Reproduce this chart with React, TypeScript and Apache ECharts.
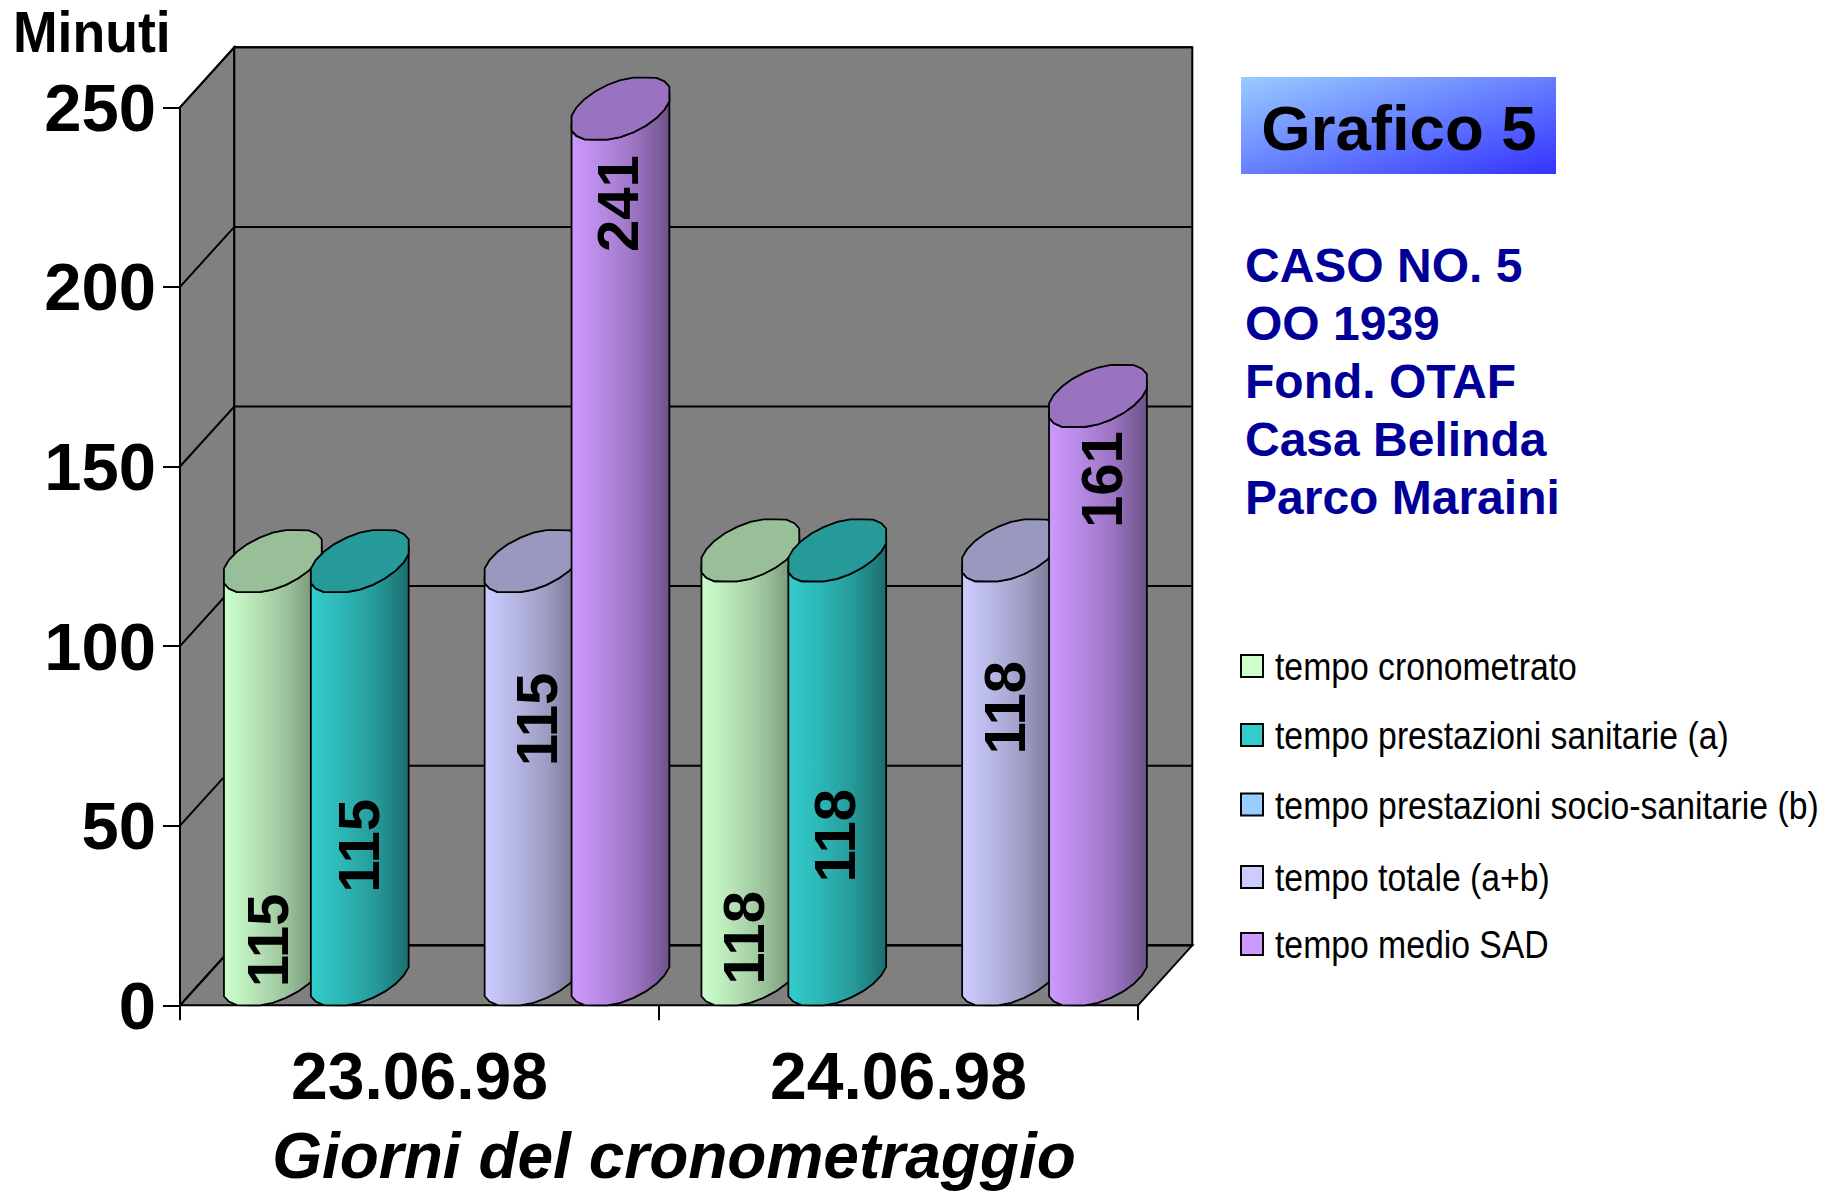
import React, { useEffect, useRef } from "react";
import * as echarts from "echarts";

const days = ["23.06.98", "24.06.98"];
const yTicks = [0, 50, 100, 150, 200, 250];
const seriesNames = [
  "tempo cronometrato",
  "tempo prestazioni sanitarie (a)",
  "tempo prestazioni socio-sanitarie (b)",
  "tempo totale (a+b)",
  "tempo medio SAD",
];
const cronometrato = [115, 118];
const sanitarie = [115, 118];
const socioSanitarie: (number | null)[] = [null, null];
const totale = [115, 118];
const medioSad = [241, 161];
const seriesValues = [cronometrato, sanitarie, socioSanitarie, totale, medioSad];
const baseRgb = [
  [204, 255, 204],
  [51, 204, 204],
  [153, 204, 255],
  [204, 204, 255],
  [204, 153, 255],
];
const labelRise = [[0.157, 0.159], [0.386, 0.4], [0.7, 0.7], [0.692, 0.702], [0.926, 0.909]];
const labelShift = [[-5, -7], [-1, -3], [0, 0], [3, -7], [-2.5, 4]];
const sideLines = ["CASO NO. 5", "OO 1939", "Fond. OTAF", "Casa Belinda", "Parco Maraini"];
const legendRows = [667, 736, 805.5, 878, 945];

const FONT = "Liberation Sans";
const DEPTH_X = 54.3;
const DEPTH_Y = 60;
const STEP = 86.9;
const UX = 43.2;
const VX = 22.9;
const VY = 31;
const HALF_W = 48.9;
const ROUND = 1.04;

const shade = (c: number[], k: number) => `rgb(${c.map((v) => Math.round(v * k)).join(",")})`;
const clamp = (v: number, lo: number, hi: number) => Math.min(hi, Math.max(lo, v));

function ellipsePts(cx: number, cy: number, from: number, to: number, n: number) {
  const pts: number[][] = [];
  for (let i = 0; i <= n; i++) {
    const t = from + ((to - from) * i) / n;
    pts.push([
      clamp(cx + ROUND * (UX * Math.cos(t) + VX * Math.sin(t)), cx - HALF_W, cx + HALF_W),
      clamp(cy - ROUND * VY * Math.sin(t), cy - VY, cy + VY),
    ]);
  }
  return pts;
}

const wallsRender = (params: any, api: any) => {
  const g = params.coordSys;
  const L = g.x, R = g.x + g.width, T = g.y, B = g.y + g.height;
  const fill = { fill: "#808080", stroke: "#000", lineWidth: 2 };
  const children: any[] = [
    { type: "polygon", shape: { points: [[L, T], [L + DEPTH_X, T - DEPTH_Y], [L + DEPTH_X, B - DEPTH_Y], [L, B]] }, style: fill },
    { type: "polygon", shape: { points: [[L, B], [L + DEPTH_X, B - DEPTH_Y], [R + DEPTH_X, B - DEPTH_Y], [R, B]] }, style: fill },
    { type: "rect", shape: { x: L + DEPTH_X, y: T - DEPTH_Y, width: g.width, height: g.height }, style: fill },
  ];
  yTicks.forEach((v) => {
    const y = api.coord([0, v])[1];
    children.push({
      type: "polyline",
      shape: { points: [[L, y], [L + DEPTH_X, y - DEPTH_Y], [R + DEPTH_X, y - DEPTH_Y]] },
      style: { fill: "none", stroke: "#000", lineWidth: 2 },
    });
  });
  return { type: "group", children };
};

const cylinderRender = (s: number) => (params: any, api: any) => {
  const v = api.value(1);
  if (v == null || isNaN(v)) return null;
  const cat = api.value(0);
  const [px, yv] = api.coord([cat, v]);
  const y0 = api.coord([cat, 0])[1];
  const cx = px + (s - 2) * STEP + DEPTH_X / 2 - (cat === 1 ? 1.5 : 0);
  const a = Math.atan2(VX, UX);
  const base = baseRgb[s];
  const lower = ellipsePts(cx, y0 - VY, Math.PI + a, 2 * Math.PI + a, 12);
  const topLower = ellipsePts(cx, yv - VY, 2 * Math.PI + a, Math.PI + a, 12);
  const top = ellipsePts(cx, yv - VY, a, 2 * Math.PI + a, 24);
  const grad = new echarts.graphic.LinearGradient(0, 0, 1, 0, [
    { offset: 0, color: shade(base, 1) },
    { offset: 0.3, color: shade(base, 0.9) },
    { offset: 0.65, color: shade(base, 0.76) },
    { offset: 1, color: shade(base, 0.54) },
  ]);
  const children: any[] = [
    {
      type: "polygon",
      shape: { points: [...lower, ...topLower] },
      style: { fill: grad, stroke: "#000", lineWidth: 1.8 },
    },
    {
      type: "polygon",
      shape: { points: top },
      style: { fill: shade(base, 0.75), stroke: "#000", lineWidth: 1.8 },
    },
    {
      type: "text",
      x: cx + labelShift[s][cat],
      y: y0 - labelRise[s][cat] * (y0 - yv),
      rotation: Math.PI / 2,
      style: {
        text: String(v),
        fontFamily: FONT,
        fontWeight: "bold",
        fontSize: 58,
        fill: "#000",
        align: "center",
        verticalAlign: "middle",
      },
    },
  ];
  return { type: "group", children };
};

export default function App() {
  const ref = useRef<HTMLDivElement>(null);
  useEffect(() => {
    const chart = echarts.init(ref.current!, null, { renderer: "svg" });
    chart.setOption({
      animation: false,
      backgroundColor: "#fff",
      grid: { left: 180, top: 107.3, width: 958, height: 898, outerBoundsMode: "none" },
      xAxis: {
        type: "category",
        data: days,
        axisLine: { show: false },
        axisTick: { show: true, length: 15, lineStyle: { color: "#000", width: 2 } },
        axisLabel: { fontFamily: FONT, fontWeight: "bold", fontSize: 66, color: "#000", margin: 38 },
        name: "Giorni del cronometraggio",
        nameLocation: "middle",
        nameGap: 119,
        nameTextStyle: {
          fontFamily: FONT,
          fontWeight: "bold",
          fontStyle: "italic",
          fontSize: 64,
          color: "#000",
          padding: [0, 0, 0, 30],
        },
      },
      yAxis: {
        type: "value",
        min: 0,
        max: 250,
        interval: 50,
        splitLine: { show: false },
        axisLine: { show: false },
        axisTick: { show: true, length: 17, lineStyle: { color: "#000", width: 2 } },
        axisLabel: { fontFamily: FONT, fontWeight: "bold", fontSize: 67, color: "#000", margin: 24, padding: [0, 0, 4, 0] },
      },
      graphic: [
        {
          type: "rect",
          shape: { x: 1241, y: 77, width: 315, height: 97 },
          style: {
            fill: new echarts.graphic.LinearGradient(0, 0, 1, 1, [
              { offset: 0, color: "#99ccff" },
              { offset: 1, color: "#3333ff" },
            ]),
          },
        },
        {
          type: "text",
          x: 1399,
          y: 128,
          style: { text: "Grafico 5", fontFamily: FONT, fontWeight: "bold", fontSize: 63.5, fill: "#000", align: "center", verticalAlign: "middle" },
        },
        {
          type: "text",
          x: 13,
          y: 32,
          scaleX: 0.94,
          style: { text: "Minuti", fontFamily: FONT, fontWeight: "bold", fontSize: 57, fill: "#000", align: "left", verticalAlign: "middle" },
        },
        ...sideLines.map((t, i) => ({
          type: "text",
          x: 1245,
          y: 265 + i * 58.2,
          style: { text: t, fontFamily: FONT, fontWeight: "bold", fontSize: 48, fill: "#000099", align: "left", verticalAlign: "middle" },
        })),
        ...seriesNames.flatMap((name, s) => [
          {
            type: "rect",
            shape: { x: 1241, y: legendRows[s] - 12, width: 22, height: 22 },
            style: { fill: shade(baseRgb[s], 1), stroke: "#000", lineWidth: 2 },
          },
          {
            type: "text",
            x: 1275,
            y: legendRows[s],
            scaleX: 0.888,
            style: { text: name, fontFamily: FONT, fontSize: 38, fill: "#000", align: "left", verticalAlign: "middle" },
          },
        ]),
      ],
      series: [
        {
          type: "custom",
          name: "pareti",
          coordinateSystem: "cartesian2d",
          data: [[0, 0]],
          renderItem: wallsRender,
          z: 1,
          silent: true,
        },
        ...seriesNames.map((name, s) => ({
          type: "custom",
          name,
          coordinateSystem: "cartesian2d",
          itemStyle: { color: shade(baseRgb[s], 1) },
          data: seriesValues[s].map((v, i) => [i, v]),
          encode: { x: 0, y: 1 },
          renderItem: cylinderRender(s),
          z: 2 + s,
          silent: true,
        })),
      ],
    });
    return () => chart.dispose();
  }, []);
  return <div ref={ref} style={{ position: "absolute", left: 0, top: 0, width: 1825, height: 1193 }} />;
}
